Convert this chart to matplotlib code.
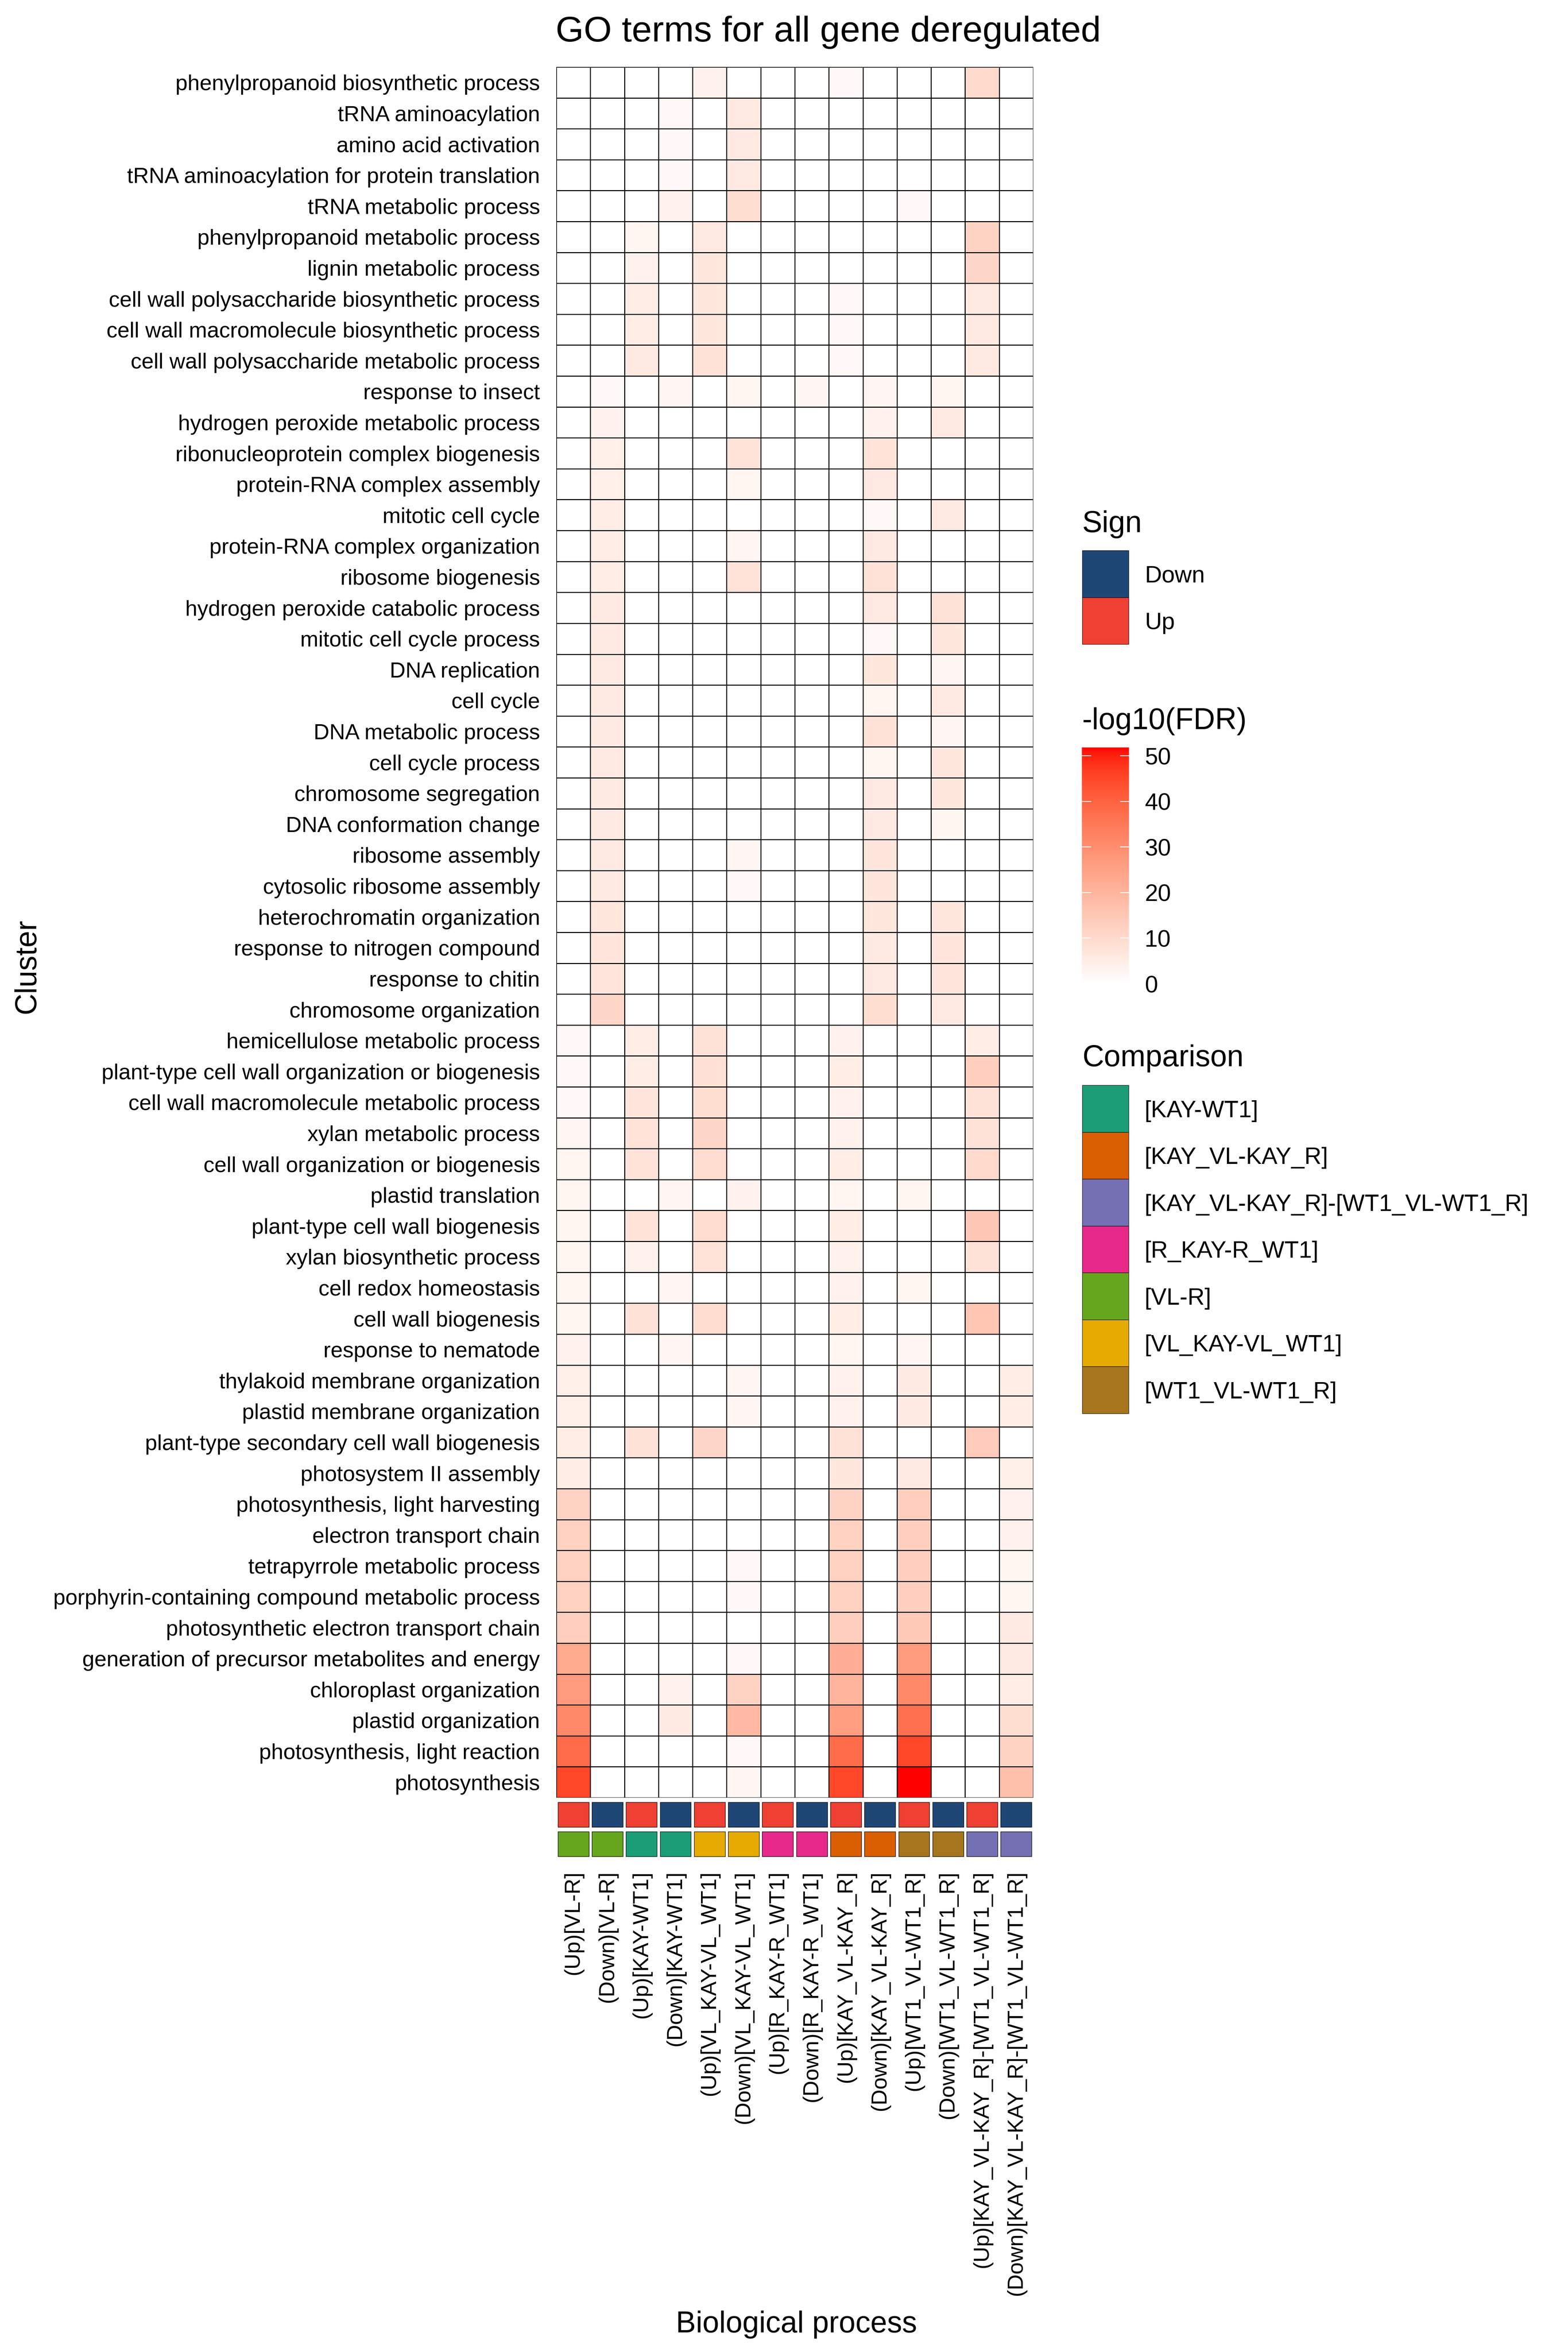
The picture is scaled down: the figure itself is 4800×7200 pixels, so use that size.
import numpy as np
import matplotlib
matplotlib.use("Agg")
import matplotlib.pyplot as plt
from matplotlib.colors import ListedColormap, Normalize
from matplotlib.cm import ScalarMappable
from matplotlib.patches import Rectangle

plt.rcParams['font.family'] = ['Liberation Sans', 'DejaVu Sans']

# GO terms, top to bottom
terms = [
    "phenylpropanoid biosynthetic process", "tRNA aminoacylation", "amino acid activation",
    "tRNA aminoacylation for protein translation", "tRNA metabolic process",
    "phenylpropanoid metabolic process", "lignin metabolic process",
    "cell wall polysaccharide biosynthetic process", "cell wall macromolecule biosynthetic process",
    "cell wall polysaccharide metabolic process", "response to insect",
    "hydrogen peroxide metabolic process", "ribonucleoprotein complex biogenesis",
    "protein-RNA complex assembly", "mitotic cell cycle", "protein-RNA complex organization",
    "ribosome biogenesis", "hydrogen peroxide catabolic process", "mitotic cell cycle process",
    "DNA replication", "cell cycle", "DNA metabolic process", "cell cycle process",
    "chromosome segregation", "DNA conformation change", "ribosome assembly",
    "cytosolic ribosome assembly", "heterochromatin organization",
    "response to nitrogen compound", "response to chitin", "chromosome organization",
    "hemicellulose metabolic process", "plant-type cell wall organization or biogenesis",
    "cell wall macromolecule metabolic process", "xylan metabolic process",
    "cell wall organization or biogenesis", "plastid translation",
    "plant-type cell wall biogenesis", "xylan biosynthetic process", "cell redox homeostasis",
    "cell wall biogenesis", "response to nematode", "thylakoid membrane organization",
    "plastid membrane organization", "plant-type secondary cell wall biogenesis",
    "photosystem II assembly", "photosynthesis, light harvesting", "electron transport chain",
    "tetrapyrrole metabolic process", "porphyrin-containing compound metabolic process",
    "photosynthetic electron transport chain", "generation of precursor metabolites and energy",
    "chloroplast organization", "plastid organization", "photosynthesis, light reaction",
    "photosynthesis",
]

columns = [
    "(Up)[VL-R]", "(Down)[VL-R]", "(Up)[KAY-WT1]", "(Down)[KAY-WT1]",
    "(Up)[VL_KAY-VL_WT1]", "(Down)[VL_KAY-VL_WT1]", "(Up)[R_KAY-R_WT1]", "(Down)[R_KAY-R_WT1]",
    "(Up)[KAY_VL-KAY_R]", "(Down)[KAY_VL-KAY_R]", "(Up)[WT1_VL-WT1_R]", "(Down)[WT1_VL-WT1_R]",
    "(Up)[KAY_VL-KAY_R]-[WT1_VL-WT1_R]", "(Down)[KAY_VL-KAY_R]-[WT1_VL-WT1_R]",
]

col_sign = ["Up", "Down"] * 7
col_comparison = [
    "[VL-R]", "[VL-R]", "[KAY-WT1]", "[KAY-WT1]", "[VL_KAY-VL_WT1]", "[VL_KAY-VL_WT1]",
    "[R_KAY-R_WT1]", "[R_KAY-R_WT1]", "[KAY_VL-KAY_R]", "[KAY_VL-KAY_R]",
    "[WT1_VL-WT1_R]", "[WT1_VL-WT1_R]",
    "[KAY_VL-KAY_R]-[WT1_VL-WT1_R]", "[KAY_VL-KAY_R]-[WT1_VL-WT1_R]",
]

# -log10(FDR), one row per term, one value per column (0 = not enriched)
neg_log_fdr = [
    [0, 0, 0, 0, 4, 0, 0, 0, 2, 0, 0, 0, 10, 0],
    [0, 0, 0, 2, 0, 6, 0, 0, 0, 0, 0, 0, 0, 0],
    [0, 0, 0, 2, 0, 6, 0, 0, 0, 0, 0, 0, 0, 0],
    [0, 0, 0, 2, 0, 6, 0, 0, 0, 0, 0, 0, 0, 0],
    [0, 0, 0, 4, 0, 9, 0, 0, 0, 0, 2, 0, 0, 0],
    [0, 0, 3, 0, 6, 0, 0, 0, 0, 0, 0, 0, 12, 0],
    [0, 0, 3.5, 0, 6.5, 0, 0, 0, 0, 0, 0, 0, 11, 0],
    [0, 0, 5, 0, 6.5, 0, 0, 0, 2, 0, 0, 0, 6, 0],
    [0, 0, 5, 0, 6.5, 0, 0, 0, 2, 0, 0, 0, 6, 0],
    [0, 0, 6, 0, 8, 0, 0, 0, 2, 0, 0, 0, 6, 0],
    [0, 2, 0, 2.5, 0, 3, 0, 2.5, 0, 2.5, 0, 3, 0, 0],
    [0, 3.5, 0, 0, 0, 0, 0, 0, 0, 4, 0, 6, 0, 0],
    [0, 4.5, 0, 0, 0, 7.5, 0, 0, 0, 7.5, 0, 0, 0, 0],
    [0, 4.5, 0, 0, 0, 3, 0, 0, 0, 6, 0, 0, 0, 0],
    [0, 5, 0, 0, 0, 0, 0, 0, 0, 2, 0, 6, 0, 0],
    [0, 5, 0, 0, 0, 2.5, 0, 0, 0, 6, 0, 0, 0, 0],
    [0, 5, 0, 0, 0, 7.5, 0, 0, 0, 8, 0, 0, 0, 0],
    [0, 5.5, 0, 0, 0, 0, 0, 0, 0, 6, 0, 8, 0, 0],
    [0, 5.5, 0, 0, 0, 0, 0, 0, 0, 2, 0, 6.5, 0, 0],
    [0, 5.5, 0, 0, 0, 0, 0, 0, 0, 6.5, 0, 2.5, 0, 0],
    [0, 5.5, 0, 0, 0, 0, 0, 0, 0, 3, 0, 6, 0, 0],
    [0, 5.5, 0, 0, 0, 0, 0, 0, 0, 8, 0, 2.5, 0, 0],
    [0, 6, 0, 0, 0, 0, 0, 0, 0, 3, 0, 6.5, 0, 0],
    [0, 6, 0, 0, 0, 0, 0, 0, 0, 6, 0, 6.5, 0, 0],
    [0, 6, 0, 0, 0, 0, 0, 0, 0, 6, 0, 3, 0, 0],
    [0, 6, 0, 0, 0, 2.5, 0, 0, 0, 7, 0, 0, 0, 0],
    [0, 6, 0, 0, 0, 2, 0, 0, 0, 7, 0, 0, 0, 0],
    [0, 6.5, 0, 0, 0, 0, 0, 0, 0, 6.5, 0, 6.5, 0, 0],
    [0, 7, 0, 0, 0, 0, 0, 0, 0, 5.5, 0, 7, 0, 0],
    [0, 7, 0, 0, 0, 0, 0, 0, 0, 6, 0, 7, 0, 0],
    [0, 11, 0, 0, 0, 0, 0, 0, 0, 9, 0, 6, 0, 0],
    [2, 0, 5, 0, 8, 0, 0, 0, 3.5, 0, 0, 0, 5, 0],
    [2, 0, 5, 0, 8.5, 0, 0, 0, 5, 0, 0, 0, 13, 0],
    [2, 0, 7, 0, 9, 0, 0, 0, 3.5, 0, 0, 0, 8, 0],
    [2.5, 0, 7.5, 0, 11, 0, 0, 0, 4, 0, 0, 0, 8, 0],
    [3, 0, 7.5, 0, 9.5, 0, 0, 0, 5, 0, 0, 0, 10, 0],
    [3, 0, 0, 2.5, 0, 3.5, 0, 0, 3, 0, 3, 0, 0, 0],
    [3, 0, 7.5, 0, 9.5, 0, 0, 0, 5, 0, 0, 0, 15, 0],
    [3, 0, 4, 0, 7.5, 0, 0, 0, 4, 0, 0, 0, 8, 0],
    [3, 0, 0, 2.5, 0, 0, 0, 0, 3.5, 0, 3, 0, 0, 0],
    [3, 0, 8, 0, 9.5, 0, 0, 0, 5, 0, 0, 0, 15.5, 0],
    [3.5, 0, 0, 2.5, 0, 0, 0, 0, 3, 0, 2.5, 0, 0, 0],
    [4.5, 0, 0, 0, 0, 2.5, 0, 0, 4, 0, 5.5, 0, 0, 5],
    [4.5, 0, 0, 0, 0, 2.5, 0, 0, 4, 0, 5.5, 0, 0, 5],
    [5, 0, 8, 0, 11, 0, 0, 0, 8, 0, 0, 0, 14, 0],
    [5, 0, 0, 0, 0, 0, 0, 0, 6.5, 0, 6, 0, 0, 4.5],
    [12, 0, 0, 0, 0, 0, 0, 0, 12, 0, 13, 0, 0, 4],
    [12.5, 0, 0, 0, 0, 0, 0, 0, 12.5, 0, 13, 0, 0, 4],
    [12.5, 0, 0, 0, 0, 2, 0, 0, 12.5, 0, 13, 0, 0, 3],
    [12.5, 0, 0, 0, 0, 2, 0, 0, 12.5, 0, 13, 0, 0, 3],
    [13, 0, 0, 0, 0, 0, 0, 0, 13, 0, 14.5, 0, 0, 5.5],
    [23, 0, 0, 0, 0, 2, 0, 0, 22, 0, 27, 0, 0, 6],
    [27, 0, 0, 4, 0, 12, 0, 0, 20, 0, 31, 0, 0, 5],
    [31, 0, 0, 5.5, 0, 19, 0, 0, 26, 0, 37, 0, 0, 9],
    [38, 0, 0, 0, 0, 2, 0, 0, 38, 0, 45, 0, 0, 12],
    [45, 0, 0, 0, 0, 2.5, 0, 0, 45, 0, 51.8, 0, 0, 17],
]

sign_colors = {"Down": "#1F4776", "Up": "#EE4033"}
comparison_order = ["[KAY-WT1]", "[KAY_VL-KAY_R]", "[KAY_VL-KAY_R]-[WT1_VL-WT1_R]",
                    "[R_KAY-R_WT1]", "[VL-R]", "[VL_KAY-VL_WT1]", "[WT1_VL-WT1_R]"]
comparison_colors = dict(zip(comparison_order, ["#1B9E77", "#D95F02", "#7570B3", "#E7298A",
                                                "#66A61E", "#E6AB02", "#A6761D"]))

W, H = 4800, 7200
HEAT_L, HEAT_R = 1703, 3163


def fx(x):
    return x / W


def fy(y):
    return 1 - y / H


def box(x0, y0, x1, y1):
    # pixel box (top-left origin) -> figure rect
    return [fx(x0), fy(y1), (x1 - x0) / W, (y1 - y0) / H]


def srgb_to_lab(rgb):
    rgb = np.asarray(rgb, float)
    lin = np.where(rgb <= 0.04045, rgb / 12.92, ((rgb + 0.055) / 1.055) ** 2.4)
    m = np.array([[0.4124, 0.3576, 0.1805], [0.2126, 0.7152, 0.0722], [0.0193, 0.1192, 0.9505]])
    xyz = m @ lin / np.array([0.95047, 1.0, 1.08883])
    f = np.where(xyz > 0.008856, np.cbrt(xyz), 7.787 * xyz + 16 / 116)
    return np.array([116 * f[1] - 16, 500 * (f[0] - f[1]), 200 * (f[1] - f[2])])


def lab_to_srgb(lab):
    L, a, b = lab[:, 0], lab[:, 1], lab[:, 2]
    fyv = (L + 16) / 116
    f = np.stack([fyv + a / 500, fyv, fyv - b / 200], axis=1)
    xyz = np.where(f ** 3 > 0.008856, f ** 3, (f - 16 / 116) / 7.787) * np.array([0.95047, 1.0, 1.08883])
    m = np.array([[3.2406, -1.5372, -0.4986], [-0.9689, 1.8758, 0.0415], [0.0557, -0.2040, 1.0570]])
    lin = np.clip(xyz @ m.T, 0, 1)
    rgb = np.where(lin <= 0.0031308, lin * 12.92, 1.055 * lin ** (1 / 2.4) - 0.055)
    return np.clip(rgb, 0, 1)


def white_red_cmap(n=256):
    # ggplot-like gradient: interpolate white -> red in CIELAB
    lo, hi = srgb_to_lab([1, 1, 1]), srgb_to_lab([1, 0, 0])
    t = np.linspace(0, 1, n)[:, None]
    return ListedColormap(lab_to_srgb(lo + t * (hi - lo)))


def draw():
    values = np.array(neg_log_fdr, float)
    cmap = white_red_cmap()
    norm = Normalize(vmin=0, vmax=values.max())
    n_rows, n_cols = values.shape

    fig = plt.figure(figsize=(16, 24), dpi=300)

    # heatmap
    ax = fig.add_axes(box(HEAT_L, 205, HEAT_R, 5503))
    ax.pcolormesh(np.arange(n_cols + 1), np.arange(n_rows + 1), values, cmap=cmap, norm=norm,
                  edgecolors="black", linewidth=0.3)
    ax.set_xlim(0, n_cols)
    ax.set_ylim(n_rows, 0)
    ax.set_xticks([])
    ax.set_yticks(np.arange(n_rows) + 0.5)
    ax.set_yticklabels(terms, fontsize=16)
    ax.tick_params(axis="y", length=0, pad=12)
    for s in ax.spines.values():
        s.set_visible(False)

    # annotation strips: sign and comparison
    xs = np.arange(n_cols) + 0.5
    strips = [
        (box(HEAT_L, 5513, HEAT_R, 5597), [sign_colors[s] for s in col_sign]),
        (box(HEAT_L, 5603, HEAT_R, 5687), [comparison_colors[c] for c in col_comparison]),
    ]
    for rect, colors in strips:
        sa = fig.add_axes(rect)
        sa.bar(xs, 0.9, bottom=0.05, width=0.91, color=colors, edgecolor="black", linewidth=0.35)
        sa.set_xlim(0, n_cols)
        sa.set_ylim(0, 1)
        sa.set_yticks([])
        sa.set_xticks([])
        for s in sa.spines.values():
            s.set_visible(False)
    sa.set_xticks(xs)
    sa.set_xticklabels(columns, rotation=90, fontsize=16, ha="center", va="top")
    sa.tick_params(axis="x", length=0, pad=9.5)

    # titles
    fig.text(fx(2536), fy(127), "GO terms for all gene deregulated", fontsize=26.5,
             ha="center", va="baseline")
    fig.text(fx(2438), fy(7140), "Biological process", fontsize=22, ha="center", va="baseline")
    fig.text(fx(83), fy(2958), "Cluster", fontsize=22, rotation=90, ha="center", va="center")

    # colour bar legend
    cax = fig.add_axes(box(3312, 2288, 3456, 3011))
    cb = fig.colorbar(ScalarMappable(norm=norm, cmap=cmap), cax=cax)
    cb.outline.set_visible(False)
    cb.set_ticks([0, 10, 20, 30, 40, 50])
    cax.tick_params(direction="in", length=6.7, width=0.6, color="white", left=True, right=True,
                    labelleft=False, labelright=True, labelsize=17.3, pad=11.5)
    fig.text(fx(3313), fy(2232), "-log10(FDR)", fontsize=22, va="baseline")

    # discrete legends drawn on an overlay in pixel units
    lg = fig.add_axes([0, 0, 1, 1])
    lg.set_xlim(0, W)
    lg.set_ylim(H, 0)
    lg.axis("off")
    key = 143.5
    legends = [
        ("Sign", 1629, 1685, ["Down", "Up"], sign_colors),
        ("Comparison", 3264, 3322, comparison_order, comparison_colors),
    ]
    for title, base, top, labels, cmapping in legends:
        lg.text(3313, base, title, fontsize=22, va="baseline")
        for i, lab in enumerate(labels):
            y0 = top + i * key
            lg.add_patch(Rectangle((3313, y0), 142, key, facecolor=cmapping[lab],
                                   edgecolor="black", linewidth=0.3))
            lg.text(3504, y0 + key / 2, lab, fontsize=17.3, va="center_baseline")

    fig.savefig("out.png", dpi=300, facecolor="white")
    plt.close(fig)


if __name__ == "__main__":
    draw()
